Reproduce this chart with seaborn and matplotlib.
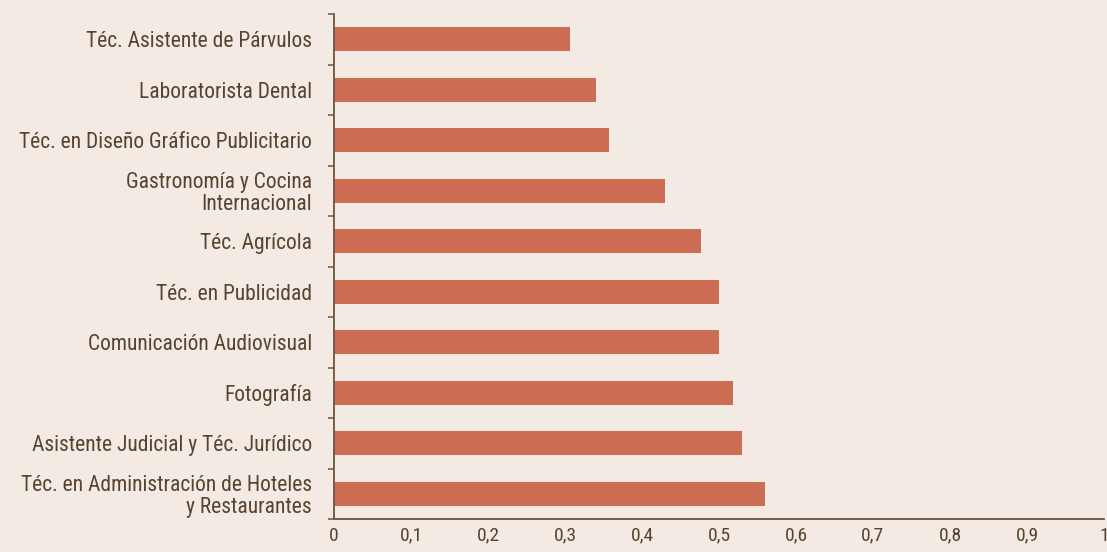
# barras horizontales - carreras técnicas
import pandas as pd
import numpy as np
import seaborn as sns
import matplotlib
matplotlib.use('Agg')
import matplotlib.pyplot as plt
from matplotlib import font_manager
from matplotlib.ticker import FixedLocator, FuncFormatter

# %%
# Datos
carreras = [
    'Téc. Asistente de Párvulos',
    'Laboratorista Dental',
    'Téc. en Diseño Gráfico Publicitario',
    'Gastronomía y Cocina\nInternacional',
    'Téc. Agrícola',
    'Téc. en Publicidad',
    'Comunicación Audiovisual',
    'Fotografía',
    'Asistente Judicial y Téc. Jurídico',
    'Téc. en Administración de Hoteles\ny Restaurantes',
]
valores = [0.306, 0.340, 0.357, 0.430, 0.477, 0.500, 0.500, 0.518, 0.530, 0.560]
x_ticks = [0, 0.1, 0.2, 0.3, 0.4, 0.5, 0.6, 0.7, 0.8, 0.9, 1]

df = pd.DataFrame({'carrera': carreras, 'valor': valores})

# %%
# Estilo
FONDO = '#F3EAE3'
BARRA = '#CD6E54'
TEXTO = '#574330'
EJE = '#6B5440'

sns.set_theme(style='white')
installed = {f.name for f in font_manager.fontManager.ttflist}
familias = [f for f in ['Liberation Sans Narrow', 'DejaVu Sans Condensed', 'Roboto Condensed',
                        'Open Sans Condensed', 'Roboto', 'DejaVu Sans'] if f in installed]
plt.rcParams['font.family'] = familias

fig = plt.figure(figsize=(11.07, 5.52), dpi=100, facecolor=FONDO)
ax = fig.add_axes([334 / 1107, 33 / 552, 770 / 1107, 505 / 552])
ax.set_facecolor(FONDO)

sns.barplot(data=df, x='valor', y='carrera', orient='h', color=BARRA,
            saturation=1, width=0.47, linewidth=0, ax=ax)

ax.set_xlim(0, 1)
ax.set_ylim(len(carreras) - 0.5, -0.5)
ax.set_xlabel('')
ax.set_ylabel('')

for s in ['top', 'right']:
    ax.spines[s].set_visible(False)
for s in ['left', 'bottom']:
    ax.spines[s].set_color(EJE)
    ax.spines[s].set_linewidth(1.3)

ax.xaxis.set_major_locator(FixedLocator(x_ticks))
ax.xaxis.set_major_formatter(FuncFormatter(lambda v, p: f'{v:g}'.replace('.', ',')))
ax.tick_params(axis='x', which='major', direction='out', length=3.5, width=1.1,
               color=EJE, labelcolor=TEXTO, labelsize=14, pad=2)

ax.yaxis.set_minor_locator(FixedLocator(np.arange(-0.5, len(carreras), 1)))
ax.tick_params(axis='y', which='major', length=0, labelcolor=TEXTO, labelsize=15.5, pad=16)
ax.tick_params(axis='y', which='minor', direction='out', length=4, width=1.1, color=EJE, left=True)
for lbl in ax.get_yticklabels():
    lbl.set_linespacing(1.05)

fig.savefig('out.png', dpi=100, facecolor=FONDO)
